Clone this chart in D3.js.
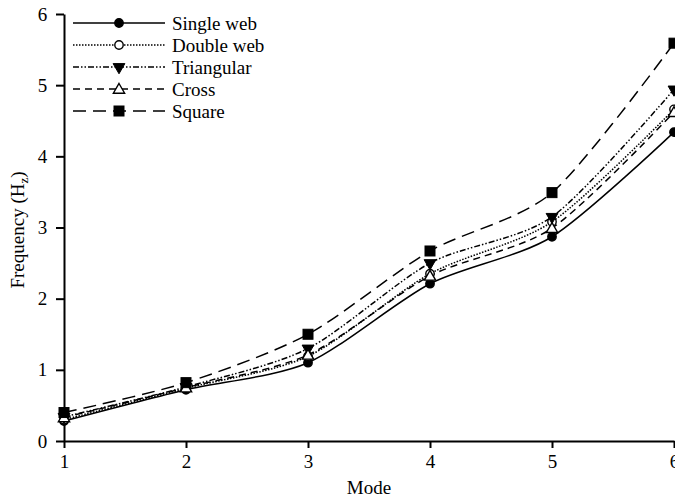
<!DOCTYPE html>
<html><head><meta charset="utf-8">
<script src="https://cdn.jsdelivr.net/npm/d3@7/dist/d3.min.js"></script>
<style>body{margin:0;background:#fff}svg{display:block}text{font-family:"Liberation Serif","Times New Roman",serif;fill:#000}</style>
</head><body><svg id="c" width="675" height="500"></svg>
<script>
const modes = [1, 2, 3, 4, 5, 6];
const singleWeb = [0.28, 0.72, 1.10, 2.21, 2.87, 4.34];
const doubleWeb = [0.30, 0.74, 1.19, 2.35, 3.08, 4.66];
const triangular = [0.34, 0.76, 1.30, 2.50, 3.15, 4.94];
const cross = [0.33, 0.75, 1.21, 2.32, 2.99, 4.62];
const square = [0.40, 0.82, 1.50, 2.67, 3.49, 5.59];
const seriesNames = ["Single web", "Double web", "Triangular", "Cross", "Square"];
const yTicks = [0, 1, 2, 3, 4, 5, 6];

const series = [
  {name: seriesNames[0], values: singleWeb, dash: null, marker: "circle", fill: "#000"},
  {name: seriesNames[1], values: doubleWeb, dash: "1.5,1.5", marker: "circle", fill: "#fff"},
  {name: seriesNames[2], values: triangular, dash: "6,2,1.5,2,1.5,2", marker: "down", fill: "#000"},
  {name: seriesNames[3], values: cross, dash: "7,5", marker: "up", fill: "#fff"},
  {name: seriesNames[4], values: square, dash: "13,7", marker: "square", fill: "#000"}
];

const svg = d3.select("#c");
const x = d3.scaleLinear().domain([1, 6]).range([64, 674]);
const y = d3.scaleLinear().domain([0, 6]).range([441, 14]);

// axes
const xAxis = d3.axisBottom(x).tickValues(modes).tickFormat(d3.format("d")).tickSize(7).tickSizeOuter(0);
const yAxis = d3.axisLeft(y).tickValues(yTicks).tickFormat(d3.format("d")).tickSize(8).tickSizeOuter(0);
const gx = svg.append("g").attr("transform", "translate(0,441)").call(xAxis);
const gy = svg.append("g").attr("transform", "translate(64,0)").call(yAxis);
[gx, gy].forEach(g => {
  g.select(".domain").attr("stroke", "#000").attr("stroke-width", 2);
  g.selectAll(".tick line").attr("stroke", "#000").attr("stroke-width", 2);
  g.selectAll(".tick text").style("font-family", "'Liberation Serif', serif").style("font-size", "19px").attr("fill", "#000");
});
gx.selectAll(".tick text").attr("dy", "0.9em");
gy.selectAll(".tick text").attr("dx", "-0.3em");

// axis titles
svg.append("text").attr("x", 369).attr("y", 494).attr("text-anchor", "middle").style("font-size", "19px").text("Mode");
const yt = svg.append("text").attr("transform", "translate(24,230) rotate(-90)").attr("text-anchor", "middle").style("font-size", "19px");
yt.append("tspan").text("Frequency (H");
yt.append("tspan").attr("font-size", "13px").attr("dy", "4").text("z");
yt.append("tspan").attr("dy", "-4").text(")");

function drawMarker(g, type, cx, cy, fill) {
  if (type === "circle") {
    g.append("circle").attr("cx", cx).attr("cy", cy).attr("r", 4.2).attr("fill", fill).attr("stroke", "#000").attr("stroke-width", 1.4);
  } else if (type === "square") {
    g.append("rect").attr("x", cx - 5).attr("y", cy - 5).attr("width", 10).attr("height", 10).attr("fill", fill).attr("stroke", "#000");
  } else if (type === "down") {
    g.append("path").attr("d", d3.symbol(d3.symbolTriangle, 60)()).attr("transform", `translate(${cx},${cy}) rotate(180)`).attr("fill", fill).attr("stroke", "#000").attr("stroke-width", 1);
  } else if (type === "up") {
    g.append("path").attr("d", d3.symbol(d3.symbolTriangle, 55)()).attr("transform", `translate(${cx},${cy + 1})`).attr("fill", fill).attr("stroke", "#000").attr("stroke-width", 1.4);
  }
}

const line = d3.line().x((d, i) => x(modes[i])).y(d => y(d)).curve(d3.curveCardinal.tension(0.2));
const plot = svg.append("g");
series.forEach(s => {
  plot.append("path").attr("d", line(s.values)).attr("fill", "none").attr("stroke", "#000")
    .attr("stroke-width", 1.5).attr("stroke-dasharray", s.dash);
});
series.forEach(s => {
  const g = plot.append("g");
  s.values.forEach((v, i) => drawMarker(g, s.marker, x(modes[i]), y(v), s.fill));
});

// legend
const legend = svg.append("g");
series.forEach((s, i) => {
  const ly = 23 + i * 22;
  legend.append("line").attr("x1", 73).attr("x2", 165).attr("y1", ly).attr("y2", ly)
    .attr("stroke", "#000").attr("stroke-width", 1.5).attr("stroke-dasharray", s.dash);
  drawMarker(legend, s.marker, 119, ly, s.fill);
  legend.append("text").attr("x", 172).attr("y", ly).attr("dy", "0.35em").style("font-size", "19px").text(s.name);
});
</script></body></html>
